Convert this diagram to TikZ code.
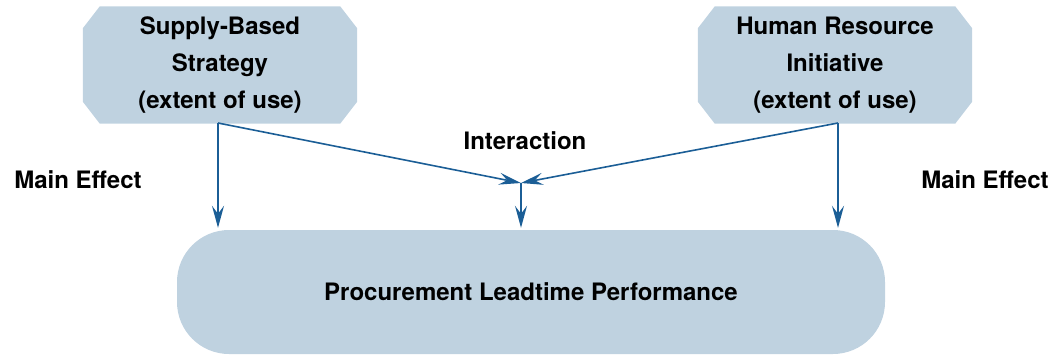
\documentclass[tikz,border=0pt]{standalone}
\usepackage{fontspec}
\setmainfont{TeX Gyre Heros}
\usetikzlibrary{arrows.meta,backgrounds}

\definecolor{boxfill}{HTML}{BFD2E0}
\definecolor{arrowblue}{HTML}{1B5E96}

\tikzset{
  factor/.style={minimum width=274pt, minimum height=117pt, inner sep=0pt,
    align=center, font=\fontsize{24}{37}\selectfont\bfseries},
  effect/.style={draw=arrowblue, line width=1.6pt, shorten >=2pt,
    -{Stealth[length=22pt,width=12pt,inset=8pt]}},
  lbl/.style={font=\fontsize{24}{28}\selectfont\bfseries}
}

% octagonal backdrop behind a factor node
\newcommand{\chamferbox}[1]{
  \fill[boxfill] ([xshift=17pt]#1.north west) -- ([xshift=-17pt]#1.north east)
    -- ([yshift=-22pt]#1.north east) -- ([yshift=22pt]#1.south east)
    -- ([xshift=-17pt]#1.south east) -- ([xshift=17pt]#1.south west)
    -- ([yshift=22pt]#1.south west) -- ([yshift=-22pt]#1.north west) -- cycle;
}

\begin{document}
\begin{tikzpicture}[x=1pt,y=-1pt]
\useasboundingbox (0,0) rectangle (1057,356);

% the two factors
\node[factor] (supply) at (220,65) {Supply-Based\\Strategy\\(extent of use)};
\node[factor] (human)  at (835,65) {Human Resource\\Initiative\\(extent of use)};
\begin{scope}[on background layer]
\chamferbox{supply}
\chamferbox{human}
\end{scope}

% outcome
\node[fill=boxfill, rounded corners=52pt, minimum width=708pt,
  minimum height=124pt, inner sep=0pt,
  font=\fontsize{24}{28}\selectfont\bfseries] (perf) at (531,292)
  {Procurement Leadtime Performance};

\coordinate (sout) at (218,123);
\coordinate (hout) at (838,123);
\coordinate (join) at (521,183);

\draw[effect] (sout) -- (sout |- perf.north);
\draw[effect] (hout) -- (hout |- perf.north);
\draw[effect,shorten >=0pt] (sout) -- (join);
\draw[effect,shorten >=0pt] (hout) -- (join);
\draw[effect] (join) -- (join |- perf.north);

\node[lbl] (inter) at (525,141) {Interaction};
\node[lbl] (mainl) at (78,180) {Main Effect};
\node[lbl] (mainr) at (985,180) {Main Effect};
\end{tikzpicture}
\end{document}
